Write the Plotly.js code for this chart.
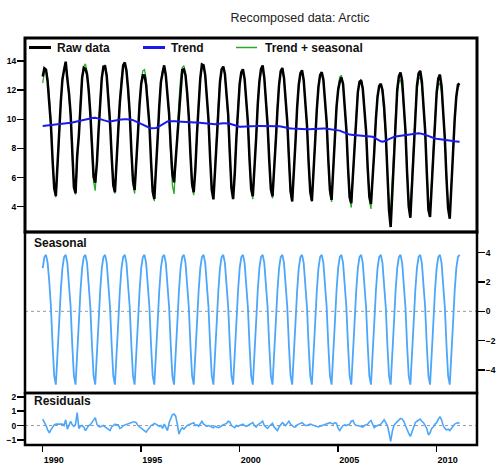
<!DOCTYPE html>
<html>
<head>
<meta charset="utf-8">
<script src="https://cdn.plot.ly/plotly-3.0.1.min.js"></script>
<style>html,body{margin:0;padding:0;background:#fff;}#chart{width:503px;height:466px;}</style>
</head>
<body>
<div id="chart"></div>
<script>
// ---- Data (monthly, Jan 1990 .. Mar 2011) ----
const startYear = 1990;
const trend = [
  9.54, 9.55, 9.56, 9.57, 9.58, 9.60, 9.61, 9.62, 9.64, 9.65, 9.66, 9.67,
  9.68, 9.69, 9.70, 9.72, 9.74, 9.76, 9.78, 9.80, 9.82, 9.84, 9.86, 9.88,
  9.90, 9.93, 9.96, 9.99, 10.02, 10.05, 10.08, 10.10, 10.10, 10.08, 10.04, 10.00,
  9.95, 9.91, 9.88, 9.86, 9.84, 9.84, 9.85, 9.87, 9.90, 9.93, 9.96, 9.98,
  9.99, 10.00, 10.00, 10.00, 10.00, 9.99, 9.97, 9.94, 9.90, 9.85, 9.80, 9.74,
  9.68, 9.62, 9.56, 9.51, 9.46, 9.42, 9.39, 9.38, 9.38, 9.40, 9.45, 9.52,
  9.60, 9.68, 9.75, 9.81, 9.85, 9.87, 9.88, 9.88, 9.87, 9.86, 9.85, 9.84,
  9.84, 9.84, 9.83, 9.83, 9.82, 9.81, 9.80, 9.80, 9.79, 9.78, 9.78, 9.77,
  9.77, 9.76, 9.75, 9.73, 9.71, 9.69, 9.67, 9.65, 9.65, 9.66, 9.68, 9.70,
  9.71, 9.72, 9.72, 9.72, 9.72, 9.71, 9.69, 9.66, 9.62, 9.58, 9.54, 9.51,
  9.49, 9.48, 9.48, 9.48, 9.49, 9.50, 9.51, 9.52, 9.52, 9.53, 9.53, 9.54,
  9.54, 9.54, 9.54, 9.55, 9.55, 9.55, 9.56, 9.56, 9.56, 9.56, 9.55, 9.54,
  9.52, 9.50, 9.47, 9.44, 9.41, 9.39, 9.38, 9.37, 9.36, 9.35, 9.34, 9.33,
  9.32, 9.32, 9.31, 9.31, 9.31, 9.31, 9.32, 9.33, 9.34, 9.35, 9.36, 9.37,
  9.38, 9.38, 9.38, 9.37, 9.36, 9.35, 9.34, 9.33, 9.32, 9.31, 9.29, 9.28,
  9.26, 9.22, 9.17, 9.12, 9.06, 9.01, 8.97, 8.95, 8.94, 8.93, 8.93, 8.92,
  8.92, 8.91, 8.91, 8.90, 8.89, 8.88, 8.87, 8.86, 8.84, 8.80, 8.74, 8.67,
  8.60, 8.54, 8.49, 8.46, 8.47, 8.52, 8.58, 8.64, 8.70, 8.75, 8.79, 8.81,
  8.83, 8.85, 8.87, 8.89, 8.91, 8.93, 8.95, 8.97, 8.99, 9.01, 9.02, 9.03,
  9.04, 9.04, 9.03, 9.01, 8.98, 8.94, 8.89, 8.84, 8.79, 8.74, 8.71, 8.68,
  8.66, 8.64, 8.62, 8.60, 8.58, 8.57, 8.55, 8.54, 8.52, 8.51, 8.50, 8.49,
  8.48, 8.47, 8.46
];
// seasonal component, one value per calendar month (Jan..Dec)
const seasonalByMonth = [2.95, 3.7, 3.85, 3.3, 2.0, 0.3, -2.3, -4.4, -5.0, -3.2, -0.8, 1.4];
const residuals = [
  0.45, 0.25, 0.0, -0.3, -0.5, -0.3, -0.1, 0.05, 0.1, 0.1, 0.15, 0.1,
  0.1, 0.0, 0.4, -0.25, 0.05, 0.3, 0.05, -0.05, 0.1, 0.9, -0.2, -0.05,
  0.0, -0.1, -0.35, -0.2, 0.0, 0.05, 0.2, 0.35, 0.55, 0.1, -0.05, -0.1,
  -0.05, 0.0, -0.1, -0.2, -0.3, -0.35, -0.1, 0.0, 0.1, 0.05, 0.05, -0.2,
  -0.15, 0.0, 0.05, 0.05, 0.1, 0.15, 0.2, 0.25, 0.25, 0.2, 0.0, -0.1,
  -0.2, -0.3, -0.4, -0.45, -0.3, -0.1, 0.0, 0.05, 0.15, 0.1, 0.0, -0.05,
  0.0, -0.2, 0.1, -0.1, -0.35, 0.2, 0.55, 0.75, 0.8, 0.65, 0.1, -0.6,
  -0.3, -0.15, -0.25, -0.1, 0.0, 0.05, 0.1, 0.15, 0.2, 0.0, 0.05, -0.05,
  0.1, 0.3, 0.1, 0.0, -0.05, 0.0, -0.05, -0.1, -0.15, -0.05, -0.1, -0.15,
  -0.1, 0.0, 0.05, 0.1, 0.15, 0.3, 0.25, 0.0, -0.1, -0.15, 0.0, -0.05,
  0.0, 0.05, 0.1, 0.0, -0.05, 0.0, 0.05, 0.1, 0.2, 0.0, -0.1, 0.05,
  0.1, 0.2, 0.3, 0.0, -0.1, -0.2, -0.05, 0.05, 0.15, -0.1, -0.25, -0.35,
  -0.1, 0.1, 0.2, 0.1, 0.0, 0.15, 0.3, 0.1, 0.0, -0.1, -0.1, 0.05,
  0.1, 0.15, 0.2, 0.1, 0.0, 0.0, 0.05, 0.1, 0.05, 0.0, -0.05, -0.1,
  -0.1, -0.05, 0.0, 0.05, 0.1, 0.15, 0.2, 0.2, 0.15, 0.1, 0.2, 0.15,
  -0.2, -0.35, -0.15, 0.0, 0.05, 0.0, 0.05, 0.1, 0.3, 0.35, 0.1, 0.0,
  0.0, -0.05, -0.1, -0.1, 0.0, 0.05, 0.1, 0.25, 0.35, 0.1, -0.15, -0.05,
  0.0, 0.05, 0.1, 0.25, 0.4, 0.2, 0.0, -0.5, -1.1, -0.4, 0.0, 0.15,
  0.25, 0.4, 0.5, 0.45, 0.3, 0.0, -0.3, -0.55, -0.75, -0.4, -0.1, 0.2,
  0.3, 0.4, 0.45, 0.3, 0.2, 0.0, -0.2, -0.65, -0.5, -0.2, -0.1, 0.1,
  0.2, 0.45, 0.6, 0.4, 0.0, -0.2, -0.3, -0.25, -0.35, -0.2, 0.0, 0.1,
  0.15, 0.2, 0.15
];
const xTickVals = [1990, 1995, 2000, 2005, 2010];
const topTickVals = [4, 6, 8, 10, 12, 14];
const seasTickVals = [-4, -2, 0, 2, 4];
const resTickVals = [-1, 0, 1, 2];
const legendLabels = ["Raw data", "Trend", "Trend + seasonal"];
const titleText = "Recomposed data: Arctic";

// ---- Derived series ----
const n = trend.length;
const t = [], seasonal = [], trendSeas = [], raw = [];
for (let m = 0; m < n; m++) {
  t.push(startYear + m / 12);
  const s = seasonalByMonth[m % 12];
  seasonal.push(s);
  trendSeas.push(trend[m] + s);
  raw.push(trend[m] + s + residuals[m]);
}

const BLACK = "#000000", BLUE = "rgb(25,25,235)", GREEN = "rgb(40,170,40)", LBLUE = "rgb(77,166,250)";
const FONT = "Liberation Sans, Arial, sans-serif";

const traces = [
  {x: t, y: trendSeas, type: "scatter", mode: "lines", line: {color: GREEN, width: 1.3}, xaxis: "x", yaxis: "y", name: legendLabels[2], showlegend: false},
  {x: t, y: raw, type: "scatter", mode: "lines", line: {color: BLACK, width: 2.5}, xaxis: "x", yaxis: "y", name: legendLabels[0], showlegend: false},
  {x: t, y: trend, type: "scatter", mode: "lines", line: {color: BLUE, width: 2}, xaxis: "x", yaxis: "y", name: legendLabels[1], showlegend: false},
  {x: t, y: seasonal, type: "scatter", mode: "lines", line: {color: LBLUE, width: 1.8}, xaxis: "x", yaxis: "y2", name: "Seasonal", showlegend: false},
  {x: t, y: residuals, type: "scatter", mode: "lines", line: {color: LBLUE, width: 1.6}, xaxis: "x", yaxis: "y3", name: "Residuals", showlegend: false}
];

// plot-area pixel helpers (plot area: x 25..477, y 38..445)
const L = 25, R = 477, T = 38, B = 445;
const px = v => (v - L) / (R - L);
const py = v => (B - v) / (B - T);

const tickFont = {family: FONT, size: 8.5, color: "#000", weight: "bold"};
const yCommon = {ticks: "outside", ticklen: 7, tickwidth: 1.5, tickcolor: "#000", showgrid: false, zeroline: false, showline: false, tickfont: tickFont, fixedrange: true, anchor: "x", ticklabelstandoff: -1};

const layout = {
  width: 503, height: 466,
  margin: {l: L, r: 503 - R, t: T, b: 466 - B},
  paper_bgcolor: "#fff", plot_bgcolor: "#fff",
  showlegend: false,
  title: {text: titleText, font: {family: FONT, size: 12.5, color: "#222"}, x: 300 / 503, xanchor: "center", xref: "container", y: 1 - 18 / 466, yref: "container", yanchor: "middle"},
  xaxis: {domain: [0, 1], range: [1989.1, 2012.05], anchor: "y3", tickvals: xTickVals, ticktext: xTickVals.map(String),
    ticks: "outside", ticklen: 6, tickwidth: 1.5, tickcolor: "#000", showgrid: false, zeroline: false, showline: false,
    tickfont: {family: FONT, size: 9, color: "#000", weight: "bold"}, ticklabelstandoff: 0, ticklabelshift: 11},
  yaxis: Object.assign({}, yCommon, {domain: [py(232), 1], range: [2.26, 15.58], tickvals: topTickVals, side: "left"}),
  yaxis2: Object.assign({}, yCommon, {domain: [py(393), py(232)], range: [-5.57, 5.41], tickvals: seasTickVals, side: "right"}),
  yaxis3: Object.assign({}, yCommon, {domain: [0, py(393)], range: [-1.35, 2.26], tickvals: resTickVals, side: "left"}),
  shapes: [
    // zero reference lines
    {type: "line", xref: "paper", yref: "y2", x0: 0, x1: 1, y0: 0, y1: 0, line: {color: "#999", width: 1, dash: "dot"}, layer: "below"},
    {type: "line", xref: "paper", yref: "y3", x0: 0, x1: 1, y0: 0, y1: 0, line: {color: "#999", width: 1, dash: "dot"}, layer: "below"},
    // panel frames
    {type: "rect", xref: "paper", yref: "y domain", x0: 0, x1: 1, y0: 0, y1: 1, line: {color: "#000", width: 3}},
    {type: "rect", xref: "paper", yref: "y2 domain", x0: 0, x1: 1, y0: 0, y1: 1, line: {color: "#000", width: 2.5}},
    {type: "rect", xref: "paper", yref: "y3 domain", x0: 0, x1: 1, y0: 0, y1: 1, line: {color: "#000", width: 2.5}},
    // legend keys
    {type: "line", xref: "paper", yref: "paper", x0: px(29), x1: px(51), y0: py(47.5), y1: py(47.5), line: {color: BLACK, width: 3}},
    {type: "line", xref: "paper", yref: "paper", x0: px(143), x1: px(165), y0: py(47.5), y1: py(47.5), line: {color: BLUE, width: 3}},
    {type: "line", xref: "paper", yref: "paper", x0: px(236), x1: px(257), y0: py(47.5), y1: py(47.5), line: {color: GREEN, width: 1.5}}
  ],
  annotations: [
    {text: legendLabels[0], xref: "paper", yref: "paper", x: px(55), y: py(47.5), xanchor: "left", yanchor: "middle", showarrow: false, font: {family: FONT, size: 12, color: "#111", weight: "bold"}},
    {text: legendLabels[1], xref: "paper", yref: "paper", x: px(169), y: py(47.5), xanchor: "left", yanchor: "middle", showarrow: false, font: {family: FONT, size: 12, color: "#111", weight: "bold"}},
    {text: legendLabels[2], xref: "paper", yref: "paper", x: px(263), y: py(47.5), xanchor: "left", yanchor: "middle", showarrow: false, font: {family: FONT, size: 12, color: "#111", weight: "bold"}},
    {text: "Seasonal", xref: "paper", yref: "paper", x: px(32), y: py(243), xanchor: "left", yanchor: "middle", showarrow: false, font: {family: FONT, size: 12, color: "#111", weight: "bold"}},
    {text: "Residuals", xref: "paper", yref: "paper", x: px(32), y: py(401), xanchor: "left", yanchor: "middle", showarrow: false, font: {family: FONT, size: 12, color: "#111", weight: "bold"}}
  ]
};

Plotly.newPlot("chart", traces, layout, {displayModeBar: false, staticPlot: true});
</script>
</body>
</html>
